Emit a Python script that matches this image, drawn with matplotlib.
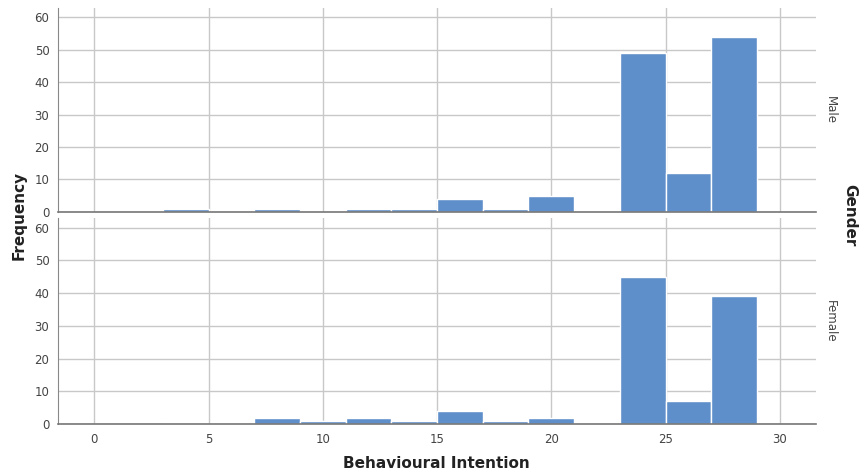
import matplotlib.pyplot as plt
import numpy as np

# bin edges (width 2) and counts per gender
bin_left = [3, 5, 7, 9, 11, 13, 15, 17, 19, 21, 23, 25, 27]
male = [1, 0, 1, 0, 1, 1, 4, 1, 5, 0, 49, 12, 54]
female = [0, 0, 2, 1, 2, 1, 4, 1, 2, 0, 45, 7, 39]
panels = ["Male", "Female"]
xticks = [0, 5, 10, 15, 20, 25, 30]
yticks = [0, 10, 20, 30, 40, 50, 60]

bar_color = "#5f8fca"
grid_color = "#c8c8c8"
text_color = "#444444"

fig = plt.figure(figsize=(8.62, 4.74), dpi=100)
ax_top = fig.add_axes([0.067, 0.553, 0.88, 0.430])
ax_bot = fig.add_axes([0.067, 0.105, 0.88, 0.435])

for ax, counts, name in zip([ax_top, ax_bot], [male, female], panels):
    ax.bar(bin_left, counts, width=2, align="edge", color=bar_color,
           edgecolor="white", linewidth=1.0, zorder=3)
    ax.set_xlim(-1.6, 31.6)
    ax.set_ylim(0, 62.9)
    ax.set_xticks(xticks)
    ax.set_yticks(yticks)
    ax.grid(True, color=grid_color, linewidth=1.0, zorder=0)
    ax.tick_params(length=0, colors=text_color, labelsize=8.5, pad=6)
    for s in ["top", "right"]:
        ax.spines[s].set_visible(False)
    ax.spines["left"].set_color("#888888")
    ax.spines["bottom"].set_color("#777777")
    ax.spines["bottom"].set_linewidth(1.2)
    ax.spines["bottom"].set_zorder(4)
    ax.text(1.01, 0.5, name, transform=ax.transAxes, rotation=270,
            ha="left", va="center", fontsize=8.5, color=text_color)

ax_top.tick_params(labelbottom=False)

fig.text(0.022, 0.545, "Frequency", rotation=90, ha="center", va="center",
         fontsize=11, fontweight="bold", color="#222222")
fig.text(0.506, 0.022, "Behavioural Intention", ha="center", va="center",
         fontsize=11, fontweight="bold", color="#222222")
fig.text(0.986, 0.545, "Gender", rotation=270, ha="center", va="center",
         fontsize=11, fontweight="bold", color="#222222")

fig.savefig("out.png", dpi=100)
